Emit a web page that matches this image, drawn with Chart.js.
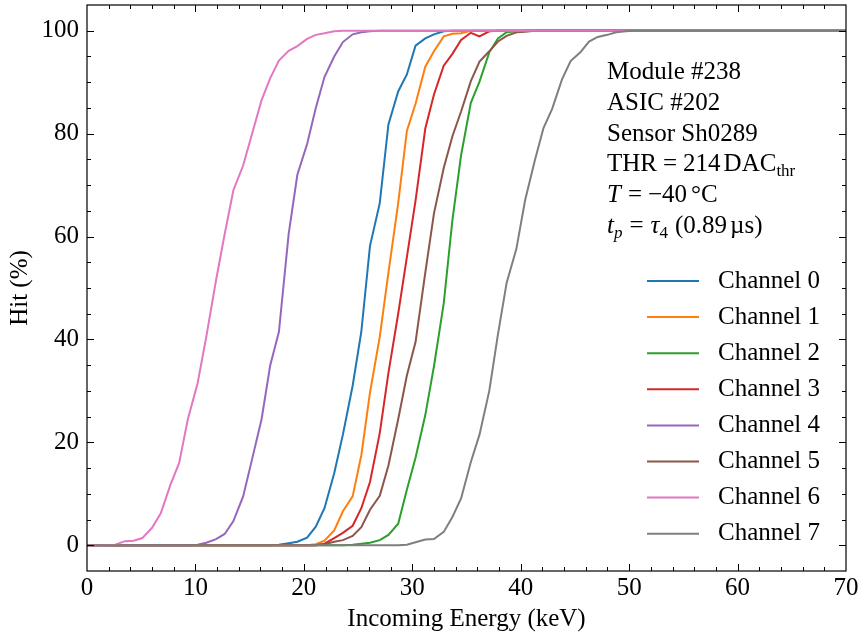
<!doctype html>
<html lang="en">
<head>
<meta charset="utf-8" />
<title>Hit vs Incoming Energy</title>
<script src="https://cdn.jsdelivr.net/npm/chart.js@4"></script>
<style>
  html, body { margin: 0; padding: 0; background: #fff; }
  canvas { display: block; }
</style>
</head>
<body>
<canvas id="chart" width="859" height="637"></canvas>
<script>
// energy grid (keV) shared by all channels
const energies = [
  -0.7, 0.1, 0.9, 1.8, 2.6, 3.5, 4.3, 5.1, 6.0, 6.8,
  7.7, 8.5, 9.3, 10.2, 11.0, 11.9, 12.7, 13.5, 14.4, 15.2,
  16.1, 16.9, 17.7, 18.6, 19.4, 20.3, 21.1, 21.9, 22.8, 23.6,
  24.5, 25.3, 26.1, 27.0, 27.8, 28.7, 29.5, 30.3, 31.2, 32.0,
  32.9, 33.7, 34.5, 35.4, 36.2, 37.1, 37.9, 38.7, 39.6, 40.4,
  41.3, 42.1, 42.9, 43.8, 44.6, 45.5, 46.3, 47.1, 48.0, 48.8,
  49.7, 50.5, 51.3, 52.2, 53.0, 53.9, 54.7, 55.5, 56.4, 57.2,
  58.1, 58.9, 59.7, 60.6, 61.4, 62.3, 63.1, 63.9, 64.8, 65.6,
  66.5, 67.3, 68.1, 69.0, 69.8, 70.6,
];

// hit percentage per channel, one value per energy
const channel0 = [
  0, 0, 0, 0, 0, 0, 0, 0, 0, 0,
  0, 0, 0, 0, 0, 0, 0, 0, 0, 0,
  0, 0, 0.1, 0.4, 0.7, 1.5, 3.6, 7.2, 14, 21.5,
  31, 41.5, 58.2, 66.5, 81.8, 88.2, 91.5, 97.1, 98.5, 99.3,
  99.9, 100, 100, 100, 100, 100, 100, 100, 100, 100,
  100, 100, 100, 100, 100, 100, 100, 100, 100, 100,
  100, 100, 100, 100, 100, 100, 100, 100, 100, 100,
  100, 100, 100, 100, 100, 100, 100, 100, 100, 100,
  100, 100, 100, 100, 100, 100,
];
const channel1 = [
  0, 0, 0, 0, 0, 0, 0, 0, 0, 0,
  0, 0, 0, 0, 0, 0, 0, 0, 0, 0,
  0, 0, 0, 0, 0, 0, 0.2, 0.9, 2.9, 6.6,
  9.5, 17.5, 29.7, 40.5, 53, 66.5, 80.5, 85.8, 93, 96,
  98.9, 99.4, 99.5, 100, 100, 100, 100, 100, 100, 100,
  100, 100, 100, 100, 100, 100, 100, 100, 100, 100,
  100, 100, 100, 100, 100, 100, 100, 100, 100, 100,
  100, 100, 100, 100, 100, 100, 100, 100, 100, 100,
  100, 100, 100, 100, 100, 100,
];
const channel2 = [
  0, 0, 0, 0, 0, 0, 0, 0, 0, 0,
  0, 0, 0, 0, 0, 0, 0, 0, 0, 0,
  0, 0, 0, 0, 0, 0, 0, 0, 0, 0,
  0.1, 0.3, 0.5, 1, 2, 4.2, 10.8, 17, 25.3, 34.8,
  47, 63.2, 75.8, 86, 90.1, 95.8, 98.5, 99.7, 99.9, 100,
  100, 100, 100, 100, 100, 100, 100, 100, 100, 100,
  100, 100, 100, 100, 100, 100, 100, 100, 100, 100,
  100, 100, 100, 100, 100, 100, 100, 100, 100, 100,
  100, 100, 100, 100, 100, 100,
];
const channel3 = [
  0, 0, 0, 0, 0, 0, 0, 0, 0, 0,
  0, 0, 0, 0, 0, 0, 0, 0, 0, 0,
  0, 0, 0, 0, 0, 0, 0, 0.3, 1.4, 2.4,
  3.8, 7.2, 12.3, 21.8, 33.5, 45, 56, 67, 81, 87.6,
  93.2, 95.5, 98.2, 99.6, 98.9, 99.9, 100, 100, 100, 100,
  100, 100, 100, 100, 100, 100, 100, 100, 100, 100,
  100, 100, 100, 100, 100, 100, 100, 100, 100, 100,
  100, 100, 100, 100, 100, 100, 100, 100, 100, 100,
  100, 100, 100, 100, 100, 100,
];
const channel4 = [
  0, 0, 0, 0, 0, 0, 0, 0, 0, 0,
  0, 0, 0, 0.1, 0.5, 1.2, 2.2, 4.7, 9.5, 16.5,
  24.5, 35, 41.5, 60.5, 72, 78, 85, 91, 95, 97.8,
  99.3, 99.7, 99.9, 100, 100, 100, 100, 100, 100, 100,
  100, 100, 100, 100, 100, 100, 100, 100, 100, 100,
  100, 100, 100, 100, 100, 100, 100, 100, 100, 100,
  100, 100, 100, 100, 100, 100, 100, 100, 100, 100,
  100, 100, 100, 100, 100, 100, 100, 100, 100, 100,
  100, 100, 100, 100, 100, 100,
];
const channel5 = [
  0, 0, 0, 0, 0, 0, 0, 0, 0, 0,
  0, 0, 0, 0, 0, 0, 0, 0, 0, 0,
  0, 0, 0, 0, 0, 0, 0, 0.2, 0.7, 1,
  1.8, 3.5, 6.9, 9.6, 15.5, 24.5, 33, 39.5, 53, 64.5,
  73.3, 79.5, 84.3, 90.2, 94, 96, 97.9, 99, 99.7, 99.8,
  100, 100, 100, 100, 100, 100, 100, 100, 100, 100,
  100, 100, 100, 100, 100, 100, 100, 100, 100, 100,
  100, 100, 100, 100, 100, 100, 100, 100, 100, 100,
  100, 100, 100, 100, 100, 100,
];
const channel6 = [
  0, 0, 0, 0, 0.1, 0.8, 0.9, 1.4, 3.4, 6.2,
  11.8, 16, 24.5, 31.5, 40.5, 51.5, 60.5, 69, 73.8, 79.8,
  86.5, 90.8, 94.2, 96.1, 97, 98.4, 99.2, 99.5, 99.9, 100,
  100, 100, 100, 100, 100, 100, 100, 100, 100, 100,
  100, 100, 100, 100, 100, 100, 100, 100, 100, 100,
  100, 100, 100, 100, 100, 100, 100, 100, 100, 100,
  100, 100, 100, 100, 100, 100, 100, 100, 100, 100,
  100, 100, 100, 100, 100, 100, 100, 100, 100, 100,
  100, 100, 100, 100, 100, 100,
];
const channel7 = [
  0, 0, 0, 0, 0, 0, 0, 0, 0, 0,
  0, 0, 0, 0, 0, 0, 0, 0, 0, 0,
  0, 0, 0, 0, 0, 0, 0, 0, 0, 0,
  0, 0, 0, 0, 0, 0, 0.1, 0.6, 1.1, 1.2,
  2.6, 5.5, 9.1, 16.2, 21.5, 30, 41, 51, 57.6, 67,
  74.8, 81.1, 84.8, 90.5, 94.1, 95.8, 97.9, 98.8, 99.2, 99.7,
  99.9, 100, 100, 100, 100, 100, 100, 100, 100, 100,
  100, 100, 100, 100, 100, 100, 100, 100, 100, 100,
  100, 100, 100, 100, 100, 100,
];

const channels = [channel0, channel1, channel2, channel3, channel4, channel5, channel6, channel7];
const channelLabels = ["Channel 0", "Channel 1", "Channel 2", "Channel 3", "Channel 4", "Channel 5", "Channel 6", "Channel 7"];
const colors = ["#1f77b4", "#ff7f0e", "#2ca02c", "#d62728", "#9467bd", "#8c564b", "#e377c2", "#7f7f7f"];

const xMajor = [0, 10, 20, 30, 40, 50, 60, 70];
const xMinor = [2, 4, 6, 8, 12, 14, 16, 18, 22, 24, 26, 28, 32, 34, 36, 38, 42, 44, 46, 48, 52, 54, 56, 58, 62, 64, 66, 68];
const yMajor = [0, 20, 40, 60, 80, 100];
const yMinor = [-5, 5, 10, 15, 25, 30, 35, 45, 50, 55, 65, 70, 75, 85, 90, 95, 105];

const infoLines = [
  [{ t: "Module #238" }],
  [{ t: "ASIC #202" }],
  [{ t: "Sensor Sh0289" }],
  [{ t: "THR" }, { t: "=", dx: 6 }, { t: "214", dx: 6 }, { t: "DAC", dx: 3 }, { t: "thr", small: true, dy: 5 }],
  [{ t: "T", it: true }, { t: "=", dx: 7 }, { t: "\u221240", dx: 6 }, { t: "\u00b0C", dx: 4 }],
  [{ t: "t", it: true }, { t: "p", it: true, small: true, dy: 5 }, { t: "=", dx: 7 }, { t: "\u03c4", it: true, dx: 7 },
   { t: "4", small: true, dy: 5 }, { t: "(0.89", dx: 7 }, { t: "\u00b5s)", dx: 3 }],
];

const SERIF = "'Liberation Serif', 'DejaVu Serif', serif";

const frameAndTicks = {
  id: "frameAndTicks",
  afterDraw(chart) {
    const { ctx, chartArea: a, scales } = chart;
    ctx.save();
    ctx.strokeStyle = "#000";
    ctx.lineWidth = 1.2;
    ctx.strokeRect(a.left, a.top, a.right - a.left, a.bottom - a.top);
    ctx.lineWidth = 1;
    const tick = (vals, len) => {
      ctx.beginPath();
      for (const v of vals) {
        const x = Math.round(scales.x.getPixelForValue(v)) + 0.5;
        if (x > a.left + 1 && x < a.right - 1) {
          ctx.moveTo(x, a.bottom); ctx.lineTo(x, a.bottom - len);
          ctx.moveTo(x, a.top); ctx.lineTo(x, a.top + len);
        }
      }
      ctx.stroke();
    };
    const ytick = (vals, len) => {
      ctx.beginPath();
      for (const v of vals) {
        const y = Math.round(scales.y.getPixelForValue(v)) + 0.5;
        if (y > a.top + 1 && y < a.bottom - 1) {
          ctx.moveTo(a.left, y); ctx.lineTo(a.left + len, y);
          ctx.moveTo(a.right, y); ctx.lineTo(a.right - len, y);
        }
      }
      ctx.stroke();
    };
    tick(xMajor, 7); tick(xMinor, 4);
    ytick(yMajor, 7); ytick(yMinor, 4);

    // legend
    ctx.font = "25px " + SERIF;
    ctx.textBaseline = "middle";
    ctx.fillStyle = "#000";
    channelLabels.forEach((label, i) => {
      const y = 281 + i * 36.1;
      ctx.strokeStyle = colors[i];
      ctx.lineWidth = 2;
      ctx.beginPath(); ctx.moveTo(647, y); ctx.lineTo(699, y); ctx.stroke();
      ctx.fillText(label, 718, y);
    });

    // info text
    ctx.textBaseline = "alphabetic";
    infoLines.forEach((runs, i) => {
      let x = 607;
      const y = 79 + i * 30.8;
      for (const r of runs) {
        x += r.dx || 0;
        ctx.font = (r.it ? "italic " : "") + (r.small ? "17px " : "25px ") + SERIF;
        ctx.fillText(r.t, x, y + (r.dy || 0));
        x += ctx.measureText(r.t).width;
      }
    });
    ctx.restore();
  },
};

const tickFont = { family: SERIF, size: 25 };

new Chart(document.getElementById("chart"), {
  type: "line",
  data: {
    datasets: channels.map((vals, i) => ({
      label: channelLabels[i],
      data: energies.map((e, k) => ({ x: e, y: vals[k] })),
      borderColor: colors[i],
      borderWidth: 2,
      pointRadius: 0,
      tension: 0,
      fill: false,
      order: 7 - i,
    })),
  },
  options: {
    responsive: false,
    animation: false,
    layout: { padding: { left: 0, top: 5, right: 13, bottom: 0 } },
    plugins: { legend: { display: false }, tooltip: { enabled: false } },
    scales: {
      x: {
        type: "linear",
        min: 0,
        max: 70,
        afterBuildTicks: (s) => { s.ticks = xMajor.map((v) => ({ value: v })); },
        afterFit: (s) => { s.height = 66; s.paddingLeft = 0; s.paddingRight = 0; },
        grid: { display: false, drawTicks: false },
        border: { display: false },
        ticks: { font: tickFont, color: "#000", padding: 2, maxRotation: 0, autoSkip: false },
        title: { display: true, text: "Incoming Energy (keV)", font: tickFont, color: "#000", padding: { top: 0, bottom: 3 } },
      },
      y: {
        type: "linear",
        min: -5,
        max: 105,
        afterBuildTicks: (s) => { s.ticks = yMajor.map((v) => ({ value: v })); },
        afterFit: (s) => { s.width = 87; s.paddingTop = 0; s.paddingBottom = 0; },
        grid: { display: false, drawTicks: false },
        border: { display: false },
        ticks: { font: tickFont, color: "#000", padding: 8, autoSkip: false },
        title: { display: true, text: "Hit (%)", font: tickFont, color: "#000", padding: { top: 5, bottom: 0 } },
      },
    },
  },
  plugins: [frameAndTicks],
});
</script>
</body>
</html>
